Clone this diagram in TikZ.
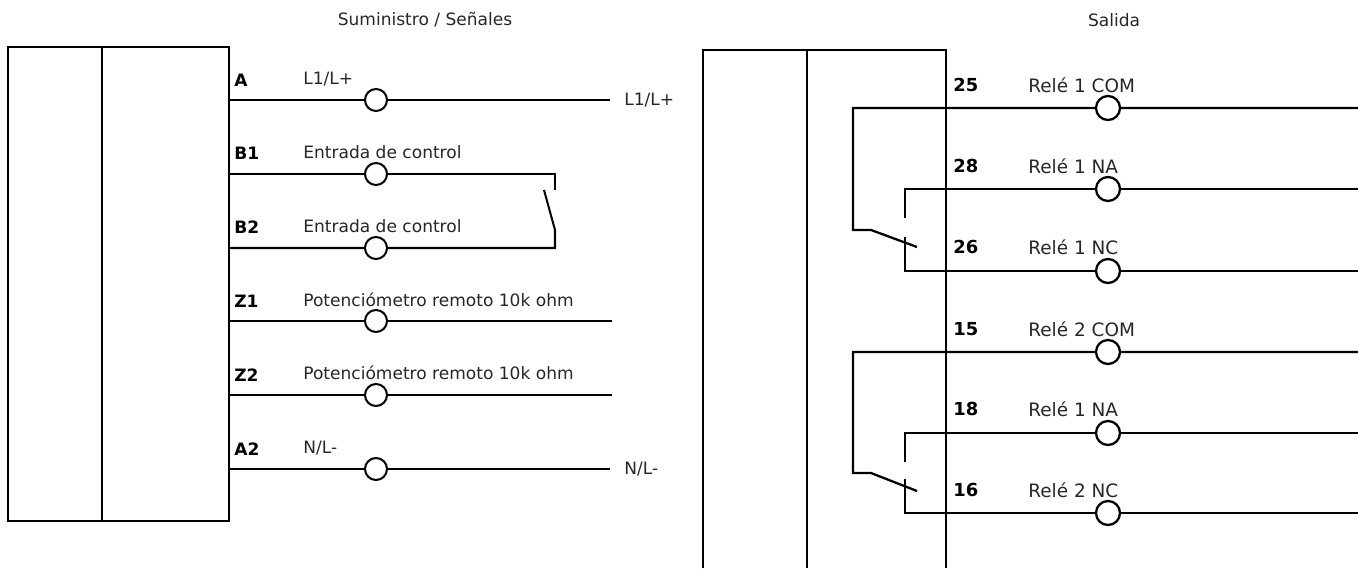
\documentclass[tikz,border=0pt]{standalone}
\usepackage{fontspec}
\setmainfont{DejaVu Sans}
\tikzset{
  wire/.style={draw=black,line width=1.15pt},
  relwire/.style={draw=black,line width=1.3pt},
  term/.style={circle,draw=black,fill=white,line width=1.15pt,minimum size=.44cm,inner sep=0pt},
  relterm/.style={term,line width=1.3pt,minimum size=.48cm},
  lab/.style={font=\fontsize{9.7}{11}\selectfont,anchor=west,inner sep=0pt,text=black!85},
  rellab/.style={lab,font=\fontsize{10.5}{12}\selectfont},
  pin/.style={lab,font=\fontsize{9.7}{11}\selectfont\bfseries,text=black},
  relpin/.style={lab,font=\fontsize{10.2}{12}\selectfont\bfseries,text=black},
}
\begin{document}
\begin{tikzpicture}[x=.02cm,y=-.02cm]
\useasboundingbox (0,0) rectangle (1358,568);
\clip (0,0) rectangle (1358,568);

\node[lab,anchor=center] (title left) at (425,20) {Suministro / Señales};
\node[lab,anchor=center] (title right) at (1114,20) {Salida};

% left block
\coordinate (ltl) at (8,47);
\coordinate (lbr) at (229,521);
\coordinate (ldt) at (102,47);
\coordinate (ldb) at (102,521);
\draw[wire] (ltl) rectangle (lbr);
\draw[wire] (ldt) -- (ldb);

\node[pin] (pin a)  at (234,80)  {A};
\node[pin] (pin b1) at (234,153) {B1};
\node[pin] (pin b2) at (234,227) {B2};
\node[pin] (pin z1) at (234,301) {Z1};
\node[pin] (pin z2) at (234,375) {Z2};
\node[pin] (pin a2) at (234,449) {A2};

\node[lab] (lab a)  at (303,79)  {L1/L+};
\node[lab] (lab b1) at (303,152) {Entrada de control};
\node[lab] (lab b2) at (303,226) {Entrada de control};
\node[lab] (lab z1) at (303,300) {Potenciómetro remoto 10k ohm};
\node[lab] (lab z2) at (303,373) {Potenciómetro remoto 10k ohm};
\node[lab] (lab a2) at (303,448) {N/L-};

\node[term] (t a)  at (376,100) {};
\node[term] (t b1) at (376,174) {};
\node[term] (t b2) at (376,248) {};
\node[term] (t z1) at (376,321) {};
\node[term] (t z2) at (376,395) {};
\node[term] (t a2) at (376,469) {};

\coordinate (a in)  at (229,100);
\coordinate (b1 in) at (229,174);
\coordinate (b2 in) at (229,248);
\coordinate (z1 in) at (229,321);
\coordinate (z2 in) at (229,395);
\coordinate (a2 in) at (229,469);

\coordinate (a out)  at (610,100);
\coordinate (z1 out) at (612,321);
\coordinate (z2 out) at (612,395);
\coordinate (a2 out) at (610,469);

\node[lab] (out a)  at (624,100) {L1/L+};
\node[lab] (out a2) at (624,469) {N/L-};

\draw[wire] (a in)  -- (t a)  -- (a out);
\draw[wire] (z1 in) -- (t z1) -- (z1 out);
\draw[wire] (z2 in) -- (t z2) -- (z2 out);
\draw[wire] (a2 in) -- (t a2) -- (a2 out);

% control switch
\coordinate (sw top)   at (555,174);
\coordinate (sw fix)   at (555,190);
\coordinate (sw free)  at (544,190);
\coordinate (sw hinge) at (555,230);
\coordinate (sw bot)   at (555,248);
\draw[wire] (b1 in) -- (t b1) -- (sw top) -- (sw fix);
\draw[wire] (b2 in) -- (t b2) -- (sw bot) -- (sw hinge) -- (sw free);

% right block
\coordinate (rtl) at (703,50);
\coordinate (rtr) at (946,50);
\coordinate (rbl) at (703,568);
\coordinate (rbr) at (946,568);
\coordinate (rdt) at (807,50);
\coordinate (rdb) at (807,568);
\draw[relwire] (rbl) -- (rtl) -- (rtr) -- (rbr);
\draw[relwire] (rdt) -- (rdb);

\node[relpin] (pin 25) at (953,85)  {25};
\node[relpin] (pin 28) at (953,166) {28};
\node[relpin] (pin 26) at (953,247) {26};
\node[relpin] (pin 15) at (953,329) {15};
\node[relpin] (pin 18) at (953,409) {18};
\node[relpin] (pin 16) at (953,490) {16};

\node[rellab] (lab 25) at (1028,85)  {Relé 1 COM};
\node[rellab] (lab 28) at (1028,166) {Relé 1 NA};
\node[rellab] (lab 26) at (1028,247) {Relé 1 NC};
\node[rellab] (lab 15) at (1028,329) {Relé 2 COM};
\node[rellab] (lab 18) at (1028,409) {Relé 1 NA};
\node[rellab] (lab 16) at (1028,490) {Relé 2 NC};

\node[relterm] (t 25) at (1108,108) {};
\node[relterm] (t 28) at (1108,189) {};
\node[relterm] (t 26) at (1108,271) {};
\node[relterm] (t 15) at (1108,352) {};
\node[relterm] (t 18) at (1108,433) {};
\node[relterm] (t 16) at (1108,513) {};

\coordinate (e 25) at (1358,108);
\coordinate (e 28) at (1358,189);
\coordinate (e 26) at (1358,271);
\coordinate (e 15) at (1358,352);
\coordinate (e 18) at (1358,433);
\coordinate (e 16) at (1358,513);

% relay 1
\coordinate (c1 a) at (853,108);
\coordinate (c1 b) at (853,230);
\coordinate (c1 c) at (871,230);
\coordinate (c1 d) at (917,247);
\coordinate (n1 a) at (905,189);
\coordinate (n1 b) at (905,218);
\coordinate (n1 c) at (905,237);
\coordinate (n1 d) at (905,271);
\draw[relwire] (e 25) -- (t 25) -- (c1 a) -- (c1 b) -- (c1 c) -- (c1 d);
\draw[relwire] (e 28) -- (t 28) -- (n1 a) -- (n1 b);
\draw[relwire] (e 26) -- (t 26) -- (n1 d) -- (n1 c);

% relay 2
\coordinate (c2 a) at (853,352);
\coordinate (c2 b) at (853,473);
\coordinate (c2 c) at (871,473);
\coordinate (c2 d) at (917,491);
\coordinate (n2 a) at (905,433);
\coordinate (n2 b) at (905,462);
\coordinate (n2 c) at (905,479);
\coordinate (n2 d) at (905,513);
\draw[relwire] (e 15) -- (t 15) -- (c2 a) -- (c2 b) -- (c2 c) -- (c2 d);
\draw[relwire] (e 18) -- (t 18) -- (n2 a) -- (n2 b);
\draw[relwire] (e 16) -- (t 16) -- (n2 d) -- (n2 c);
\end{tikzpicture}
\end{document}
